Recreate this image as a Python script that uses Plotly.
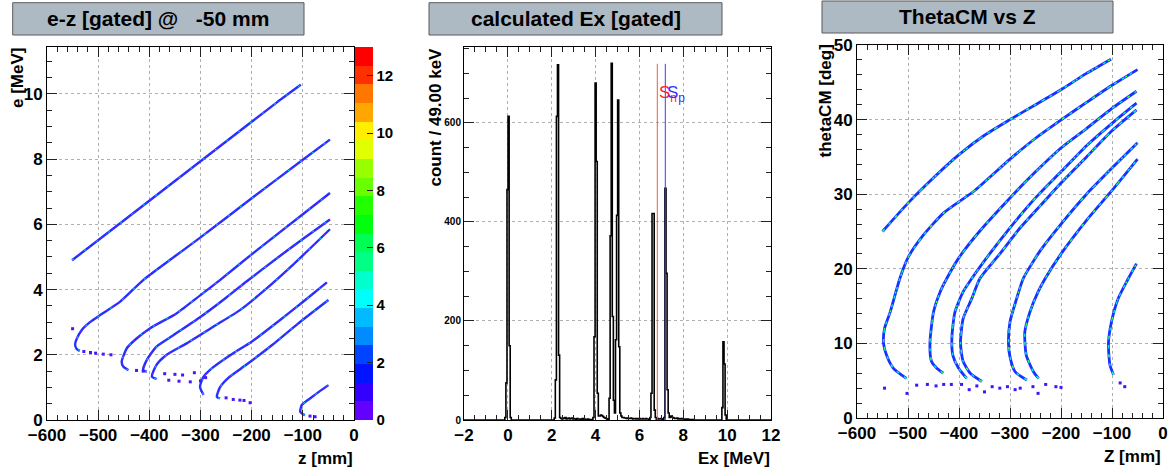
import colorsys
import plotly.graph_objects as go

W, H = 1168, 473

# ---------------- left pad: e vs z (band centre lines) -------------
ez_bands_z = [
    [-551, -450, -350, -250, -150, -104],
    [-536, -542, -545, -543, -532, -516, -496, -457, -412, -350, -300, -200, -100, -47],
    [-441, -451, -454, -444, -425, -399, -347, -300, -262, -200, -100, -47],
    [-405, -412, -405, -386, -353, -301, -250, -210, -150, -100, -47],
    [-386, -395, -386, -366, -327, -275, -223, -177, -120, -47],
    [-294, -301, -294, -275, -236, -200, -150, -100, -53],
    [-262, -268, -262, -245, -210, -160, -110, -50],
    [-96, -105, -102, -86, -68, -50],
]
ez_bands_e = [
    [4.90, 6.12, 7.33, 8.54, 9.75, 10.28],
    [2.12, 2.18, 2.30, 2.45, 2.76, 3.00, 3.22, 3.63, 4.29, 5.02, 5.60, 6.80, 7.98, 8.60],
    [1.53, 1.64, 1.79, 2.20, 2.50, 2.81, 3.27, 3.83, 4.29, 5.08, 6.31, 6.96],
    [1.48, 1.53, 1.84, 2.25, 2.60, 3.15, 3.75, 4.25, 4.97, 5.55, 6.15],
    [1.26, 1.33, 1.69, 2.00, 2.35, 2.86, 3.37, 3.95, 4.75, 5.85],
    [0.77, 1.02, 1.33, 1.62, 2.05, 2.40, 3.00, 3.62, 4.22],
    [0.66, 0.71, 1.00, 1.30, 1.70, 2.30, 2.95, 3.68],
    [0.15, 0.25, 0.46, 0.66, 0.87, 1.07],
]
ez_dots_z = [-550, -528, -515, -505, -490, -475, -425, -412, -370, -350, -335, -320, -300,
             -250, -236, -223, -203, -215, -76, -86, -312, -290, -362, -342]
ez_dots_e = [2.80, 2.10, 2.07, 2.05, 2.02, 2.00, 1.52, 1.50, 1.42, 1.40, 1.38, 1.17, 1.20,
             0.68, 0.63, 0.61, 0.53, 0.60, 0.10, 0.12, 1.45, 1.30, 1.22, 1.19]

# ---------------- middle pad: Ex histogram (49 keV bins) ----------------------------
ex_lo = -2.0
ex_bin = 0.049
ex_nbins = 286
ex_seg_start = [2.45, 4.17, 5.20, 6.82, 7.45,
                -0.11, 2.153, 3.882, 4.637, 4.903, 6.522, 7.16, 9.76]
ex_seg_counts = [
    [3, 2, 4, 3, 5, 2, 3, 4, 2, 3, 4, 2, 3, 2, 1, 3, 2, 2, 1, 2, 3, 1, 2, 1, 1, 2, 1, 0, 1],
    [6, 8, 10, 9, 7, 5, 4, 3, 2],
    [8, 5, 5, 4, 4, 3, 4, 3, 3, 4, 3, 2, 3, 3, 2, 3, 2, 3, 2, 2, 3, 2, 2, 3, 2, 2, 1, 2],
    [3, 2, 2, 3, 2],
    [8, 6, 5, 4, 3, 3, 4, 2, 3, 2, 3, 2, 2, 1, 2, 1, 2, 1, 1, 1, 0, 1],
    [5, 75, 465, 613, 150, 5],
    [4, 81, 613, 717, 131, 5],
    [5, 168, 680, 522, 54, 8],
    [44, 372, 720, 209, 40],
    [14, 162, 413, 646, 148, 14],
    [5, 54, 417, 417, 20, 5],
    [5, 468, 296, 61, 14, 5],
    [25, 158, 113, 10],
]
sn_ex, sp_ex, sep_top = 6.815, 7.18, 719
sep_label_y = 659

# ---------------- right pad: thetaCM vs Z -------------------------------------------
tz_bands_z = [
    [-550, -500, -450, -400, -350, -300, -250, -200, -150, -102],
    [-503, -529, -542, -548, -546, -535, -516, -500, -470, -430, -369, -300, -250, -199, -150, -100, -50],
    [-431, -444, -454, -457, -450, -437, -424, -400, -360, -300, -250, -200, -150, -100, -52],
    [-385, -401, -412, -414, -408, -392, -375, -340, -300, -250, -200, -150, -100, -52],
    [-355, -378, -392, -397, -392, -375, -359, -320, -280, -240, -200, -150, -100, -52],
    [-267, -290, -300, -303, -300, -287, -274, -240, -200, -150, -100, -50],
    [-244, -254, -268, -271, -261, -245, -231, -200, -150, -100, -50],
    [-97, -104, -107, -101, -88, -68, -52],
]
tz_bands_t = [
    [25.0, 28.8, 32.2, 35.3, 37.9, 40.0, 42.0, 44.0, 46.2, 48.1],
    [5.3, 6.7, 8.4, 10.0, 12.0, 14.2, 18.7, 21.5, 24.5, 27.5, 30.5, 34.7, 37.5, 40.0, 42.3, 44.6, 46.7],
    [6.0, 6.7, 7.6, 10.0, 14.2, 16.9, 18.7, 21.5, 25.0, 29.5, 33.0, 36.2, 38.8, 41.5, 43.8],
    [5.3, 6.7, 8.4, 10.7, 14.2, 16.9, 18.7, 22.0, 25.5, 29.5, 33.0, 36.5, 39.5, 42.2],
    [4.9, 6.0, 7.6, 10.0, 13.3, 16.0, 18.7, 22.0, 25.5, 28.5, 31.5, 35.0, 38.5, 41.3],
    [5.1, 6.2, 8.2, 10.0, 12.9, 16.0, 18.7, 22.5, 26.0, 30.0, 33.5, 36.9],
    [5.3, 6.2, 8.4, 11.5, 14.2, 16.9, 18.7, 22.0, 26.5, 30.5, 34.7],
    [5.8, 7.1, 10.0, 12.9, 16.0, 18.7, 20.7],
]
tz_dots_z = [-546, -502, -483, -462, -445, -430, -415, -395, -380, -365, -350, -335,
             -320, -305, -290, -280, -255, -245, -230, -210, -200, -84, -75]
tz_dots_t = [4.0, 3.3, 4.4, 4.5, 4.3, 4.5, 4.5, 4.5, 3.8, 4.3, 3.5, 4.2,
             4.0, 4.2, 3.8, 4.0, 4.2, 3.3, 4.5, 4.2, 4.1, 4.7, 4.2]

# ---------------- style --------------------------------------------------------------
n_levels, z_max = 20, 13
pal = []
for k in range(n_levels):
    idx = int((k + 0.99) * 50 / n_levels)
    hue = 0.0 if idx >= 49 else 280 - (idx + 1) * 5.6
    r, g, b = colorsys.hls_to_rgb(hue / 360.0, 0.5, 1.0)
    pal.append('rgb(%d,%d,%d)' % (round(r * 255), round(g * 255), round(b * 255)))
cscale = []
for k, c in enumerate(pal):
    cscale.append([k / n_levels, c])
    cscale.append([(k + 1) / n_levels, c])

FONT = 'Liberation Sans'


def px_x(p):
    return p / W


def px_y(p):
    return 1 - p / H


def band(fig, xs, ys, xa, ya, layers):
    for color, width, dash in layers:
        fig.add_trace(go.Scatter(x=xs, y=ys, mode='lines',
                                 line=dict(color=color, width=width, dash=dash, shape='spline', smoothing=0.6),
                                 xaxis=xa, yaxis=ya, showlegend=False, hoverinfo='skip'))


fig = go.Figure()

# left bands
left_layers = [('#2030ff', 2.4, 'solid'), ('#7a1cff', 1.2, '2px,5px'), ('#00b4ff', 1.2, '2px,13px')]
for zs, es in zip(ez_bands_z, ez_bands_e):
    band(fig, zs, es, 'x', 'y', left_layers)
fig.add_trace(go.Scatter(x=ez_dots_z, y=ez_dots_e, mode='markers',
                         marker=dict(symbol='square', size=3, color='#4a14ff'),
                         xaxis='x', yaxis='y', showlegend=False, hoverinfo='skip'))
# colour scale holder
fig.add_trace(go.Scatter(x=[None], y=[None], mode='markers',
                         marker=dict(color=[0], coloraxis='coloraxis'),
                         xaxis='x', yaxis='y', showlegend=False, hoverinfo='skip'))

# middle histogram
counts = [0] * ex_nbins
for s, seg in zip(ex_seg_start, ex_seg_counts):
    i0 = int((s - ex_lo) / ex_bin)
    for j, c in enumerate(seg):
        if 0 <= i0 + j < ex_nbins:
            counts[i0 + j] = c
edges = [ex_lo + i * ex_bin for i in range(ex_nbins + 1)]
fig.add_trace(go.Scatter(x=edges, y=counts + [counts[-1]], mode='lines',
                         line=dict(color='black', width=1.6, shape='hv'),
                         xaxis='x2', yaxis='y2', showlegend=False, hoverinfo='skip'))
fig.add_trace(go.Scatter(x=[sn_ex, sn_ex], y=[0, sep_top], mode='lines', line=dict(color='#ff5050', width=1),
                         xaxis='x2', yaxis='y2', showlegend=False, hoverinfo='skip'))
fig.add_trace(go.Scatter(x=[sp_ex, sp_ex], y=[0, sep_top], mode='lines', line=dict(color='#3a3aff', width=1),
                         xaxis='x2', yaxis='y2', showlegend=False, hoverinfo='skip'))

# right bands
right_layers = [('#1a30ff', 2.8, 'solid'), ('#00e0f0', 1.4, '3px,6px'), ('#30ff50', 1.3, '2px,17px')]
for zs, ts in zip(tz_bands_z, tz_bands_t):
    band(fig, zs, ts, 'x3', 'y3', right_layers)
fig.add_trace(go.Scatter(x=tz_dots_z, y=tz_dots_t, mode='markers',
                         marker=dict(symbol='square', size=3, color='#3a18ff'),
                         xaxis='x3', yaxis='y3', showlegend=False, hoverinfo='skip'))


def axis(domain, rng, dtick, mdtick, anchor, fsize=17):
    return dict(domain=domain, range=rng, dtick=dtick, tick0=0, anchor=anchor,
                showline=True, linecolor='black', linewidth=1, mirror='allticks',
                ticks='inside', ticklen=10, tickwidth=1, tickcolor='#222',
                showgrid=True, gridcolor='#b0b0b0', griddash='dot', gridwidth=1,
                zeroline=False, fixedrange=True, automargin=False,
                tickfont=dict(family=FONT, size=fsize, color='black', weight='bold'),
                minor=dict(ticks='inside', ticklen=5, tickwidth=1, tickcolor='#222', dtick=mdtick, showgrid=False))


ydom = [px_y(420), px_y(47)]
layout = dict(
    width=W, height=H, margin=dict(l=0, r=0, t=0, b=0, autoexpand=False),
    paper_bgcolor='white', plot_bgcolor='white', showlegend=False,
    xaxis=axis([px_x(47), px_x(354)], [-600, 0], 100, 20, 'y'),
    yaxis=axis(ydom, [0, 11.44], 2, 0.5, 'x'),
    xaxis2=axis([px_x(464), px_x(771)], [-2, 12], 2, 0.5, 'y2'),
    yaxis2=axis(ydom, [0, 753], 200, 50, 'x2', fsize=10),
    xaxis3=axis([px_x(857), px_x(1163)], [-600, 0], 100, 20, 'y3'),
    yaxis3=axis([px_y(418), px_y(45)], [0, 50], 10, 2, 'x3'),
    coloraxis=dict(cmin=0, cmax=z_max, colorscale=cscale,
                   colorbar=dict(x=px_x(355), xanchor='left', y=px_y(420), yanchor='bottom',
                                 len=(420 - 47) / H, lenmode='fraction', thickness=18,
                                 thicknessmode='pixels', outlinewidth=0, xpad=0, ypad=0,
                                 ticks='inside', ticklen=6, tickcolor='#222',
                                 tickvals=[0, 2, 4, 6, 8, 10, 12],
                                 tickfont=dict(family=FONT, size=15, color='black', weight='bold'))),
)
fig.update_layout(**layout)

# title boxes
titles = [('e-z [gated] @\u00a0\u00a0\u00a0-50 mm', 12.7, 304, 2.7, 35),
          ('calculated Ex [gated]', 429, 722, 2.7, 35),
          ('ThetaCM vs Z', 822, 1113, 1, 33)]
for txt, x0, x1, y0, y1 in titles:
    fig.add_shape(type='rect', xref='paper', yref='paper', x0=px_x(x0), x1=px_x(x1), y0=px_y(y1), y1=px_y(y0),
                  fillcolor='#adbac4', line=dict(color='#5a5a5a', width=1))
    fig.add_annotation(xref='paper', yref='paper', x=px_x((x0 + x1) / 2), y=px_y((y0 + y1) / 2),
                       text=txt, showarrow=False, xanchor='center', yanchor='middle',
                       font=dict(family=FONT, size=21, color='black', weight='bold'))

# axis titles (ROOT style: right/top aligned)
ann_font = dict(family=FONT, size=17, color='black', weight='bold')
axis_titles = [
    ('e [MeV]', 17, 47, 'center', 'top', -90),
    ('z [mm]', 354, 458, 'right', 'middle', 0),
    ('count / 49.00 keV', 435, 47, 'center', 'top', -90),
    ('Ex [MeV]', 771, 458, 'right', 'middle', 0),
    ('thetaCM [deg]', 825, 44, 'center', 'top', -90),
    ('Z [mm]', 1162, 456, 'right', 'middle', 0),
]
for txt, x, y, xa, ya, ang in axis_titles:
    fig.add_annotation(xref='paper', yref='paper', x=px_x(x), y=px_y(y), text=txt, showarrow=False,
                       xanchor=xa, yanchor=ya, textangle=ang, font=ann_font, borderpad=0)

# separation energy labels
fig.add_annotation(xref='x2', yref='y2', x=sn_ex + 0.02, y=sep_label_y, text='S<sub>n</sub>', showarrow=False,
                   xanchor='left', yanchor='middle', borderpad=0,
                   font=dict(family=FONT, size=17, color='#ff2020'))
fig.add_annotation(xref='x2', yref='y2', x=sp_ex + 0.04, y=sep_label_y, text='S<sub>p</sub>', showarrow=False,
                   xanchor='left', yanchor='middle', borderpad=0,
                   font=dict(family=FONT, size=17, color='#3030ff'))

fig.write_html('out.html', config={'displayModeBar': False},
               post_script="document.body.style.margin='0';document.body.style.overflow='hidden';")
